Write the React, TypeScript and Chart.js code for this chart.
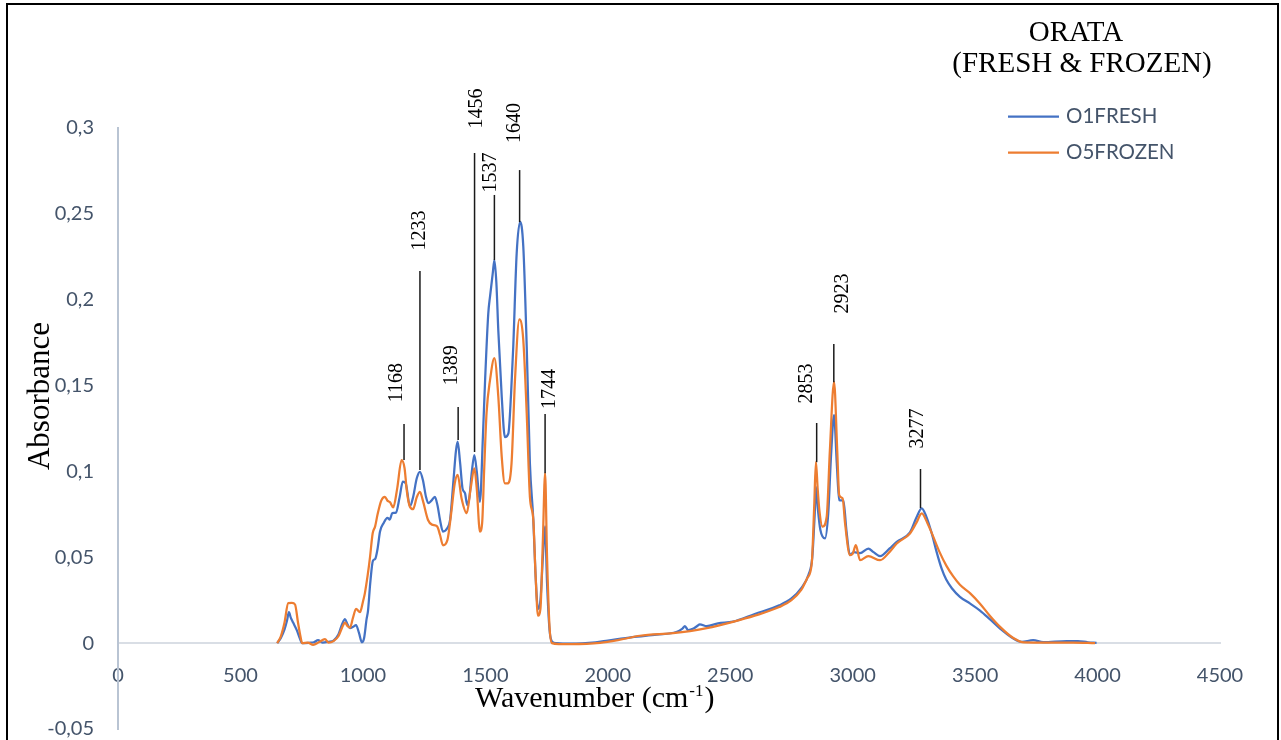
import React, { useEffect, useRef } from "react";
import { Chart, registerables } from "chart.js";

Chart.register(...registerables);

const seriesNames = ["O1FRESH", "O5FROZEN"];
const seriesColors = ["#4472C4", "#ED7D31"];

const freshWavenumber = [
  650, 665, 680, 690, 698, 705, 715, 730, 742, 752, 780, 800, 817, 835, 860, 880, 900, 915, 927, 937,
  947, 960, 972, 984, 996, 1005, 1015, 1021, 1030, 1041, 1050, 1060, 1070, 1085, 1100, 1110, 1120, 1135,
  1150, 1163, 1175, 1192, 1205, 1220, 1233, 1245, 1258, 1267, 1280, 1294, 1305, 1315, 1327, 1345, 1356,
  1370, 1380, 1387, 1397, 1407, 1417, 1426, 1435, 1445, 1455, 1465, 1478, 1490, 1499, 1512, 1519, 1530,
  1537, 1545, 1553, 1567, 1580, 1594, 1605, 1614, 1628, 1642, 1655, 1669, 1682, 1696, 1705, 1715, 1725,
  1735, 1744, 1752, 1762, 1772, 1790, 1850, 1950, 2000, 2100, 2200, 2280, 2305, 2315, 2328, 2350, 2365,
  2376, 2404, 2450, 2511, 2600, 2700, 2750, 2790, 2820, 2835, 2845, 2850, 2858, 2868, 2887, 2900, 2912,
  2924, 2935, 2945, 2962, 2975, 2989, 3005, 3030, 3064, 3085, 3112, 3150, 3180, 3234, 3260, 3282, 3300,
  3323, 3343, 3363, 3382, 3405, 3438, 3480, 3520, 3560, 3602, 3656, 3690, 3737, 3778, 3874, 3920, 3960, 3996,
];
const freshAbsorbance = [
  0, 0.003, 0.008, 0.013, 0.018, 0.015, 0.012, 0.0076, 0.003, 0, 0.0002, 0.0005, 0.0017, 0.0003, 0.0008,
  0.0015, 0.005, 0.011, 0.014, 0.011, 0.0087, 0.0095, 0.0105, 0.006, 0.0005, 0.003, 0.014, 0.019, 0.035,
  0.048, 0.049, 0.055, 0.065, 0.07, 0.073, 0.072, 0.0757, 0.076, 0.085, 0.094, 0.093, 0.0797, 0.085, 0.096,
  0.0998, 0.095, 0.085, 0.0815, 0.083, 0.0852, 0.08, 0.0717, 0.065, 0.067, 0.0717, 0.095, 0.112, 0.1173,
  0.105, 0.09, 0.0873, 0.0804, 0.085, 0.1, 0.1095, 0.1, 0.0823, 0.12, 0.153, 0.192, 0.2017, 0.215, 0.2231,
  0.21, 0.182, 0.1435, 0.12, 0.122, 0.145, 0.1726, 0.227, 0.2454, 0.231, 0.1726, 0.1048, 0.0717, 0.04, 0.02,
  0.025, 0.05, 0.068, 0.035, 0.008, 0.001, 0, -0.0003, 0.0005, 0.0015, 0.0035, 0.005, 0.0065, 0.0085, 0.0099,
  0.0076, 0.0085, 0.01, 0.011, 0.0099, 0.0115, 0.0125, 0.017, 0.022, 0.026, 0.032, 0.04, 0.05, 0.075, 0.091,
  0.078, 0.066, 0.061, 0.075, 0.11, 0.1328, 0.105, 0.0833, 0.083, 0.065, 0.0513, 0.053, 0.0524, 0.0551,
  0.053, 0.0507, 0.055, 0.059, 0.0645, 0.073, 0.0785, 0.074, 0.0639, 0.053, 0.0435, 0.037, 0.032, 0.027,
  0.023, 0.019, 0.014, 0.0085, 0.0027, 0.0008, 0.0017, 0.0006, 0.0012, 0.0012, 0.0005, 0.0002,
];

const frozenWavenumber = [
  650, 665, 680, 695, 710, 723, 735, 745, 752, 775, 797, 820, 845, 860, 880, 900, 915, 927, 937, 947, 960,
  972, 988, 1000, 1008, 1020, 1029, 1040, 1050, 1060, 1075, 1090, 1100, 1111, 1124, 1140, 1158, 1170, 1180,
  1192, 1205, 1220, 1233, 1245, 1266, 1282, 1303, 1315, 1327, 1345, 1360, 1375, 1387, 1403, 1424, 1440,
  1455, 1465, 1478, 1487, 1495, 1505, 1519, 1537, 1553, 1567, 1580, 1590, 1607, 1621, 1639, 1655, 1669,
  1682, 1696, 1705, 1715, 1725, 1735, 1744, 1752, 1762, 1772, 1800, 1850, 1968, 2050, 2131, 2267, 2336,
  2404, 2511, 2600, 2700, 2750, 2790, 2815, 2833, 2843, 2850, 2857, 2864, 2877, 2894, 2907, 2924, 2937,
  2945, 2959, 2969, 2989, 3000, 3013, 3030, 3064, 3112, 3150, 3180, 3234, 3260, 3282, 3305, 3329, 3355,
  3383, 3410, 3438, 3480, 3520, 3560, 3602, 3656, 3700, 3800, 3900, 3990,
];
const frozenAbsorbance = [
  0, 0.004, 0.012, 0.0233, 0.0235, 0.0225, 0.012, 0.004, 0, 0.0003, -0.001, 0.0005, 0.0023, 0.0003, 0.0012,
  0.004, 0.009, 0.012, 0.01, 0.009, 0.015, 0.02, 0.018, 0.024, 0.029, 0.04, 0.05, 0.064, 0.068, 0.075, 0.083,
  0.0852, 0.083, 0.082, 0.079, 0.09, 0.1066, 0.102, 0.088, 0.0794, 0.078, 0.085, 0.0881, 0.083, 0.0717,
  0.069, 0.068, 0.063, 0.057, 0.06, 0.075, 0.093, 0.098, 0.0843, 0.0757, 0.09, 0.1018, 0.09, 0.065, 0.07,
  0.1, 0.134, 0.153, 0.166, 0.1435, 0.1085, 0.093, 0.093, 0.1047, 0.153, 0.1885, 0.1765, 0.1338, 0.0852,
  0.0717, 0.04, 0.016, 0.02, 0.06, 0.099, 0.05, 0.01, 0, -0.0005, -0.0005, 0.0002, 0.002, 0.0043, 0.0058,
  0.007, 0.0087, 0.0124, 0.016, 0.021, 0.025, 0.031, 0.038, 0.0466, 0.08, 0.1056, 0.09, 0.0775, 0.0678,
  0.0736, 0.1124, 0.1522, 0.112, 0.0862, 0.0843, 0.0697, 0.0513, 0.052, 0.0571, 0.0483, 0.0507, 0.0483,
  0.053, 0.058, 0.0639, 0.07, 0.0755, 0.07, 0.062, 0.053, 0.045, 0.039, 0.034, 0.029, 0.023, 0.016, 0.0095,
  0.003, 0.0004, 0.0003, 0.0003, 0,
];

// Peak annotations (wavenumber, absorbance coordinates)
const peakWavenumbers = [1168, 1233, 1389, 1456, 1537, 1640, 1744, 2853, 2923, 3277];
const peakLineBase = [0.1066, 0.1008, 0.1183, 0.1113, 0.2231, 0.2452, 0.099, 0.1054, 0.152, 0.0786];
const peakLineTop = [0.1276, 0.2167, 0.1375, 0.2854, 0.261, 0.2755, 0.1334, 0.1282, 0.1742, 0.1014];
const peakLabelX = [1139, 1233, 1363, 1466, 1523, 1619, 1762, 2812, 2958, 3265];
const peakLabelY = [0.1517, 0.2403, 0.1619, 0.3114, 0.2741, 0.3029, 0.148, 0.1512, 0.2036, 0.125];

const titleLines = ["ORATA", "(FRESH & FROZEN)"];
const yTitle = "Absorbance";
const xTitleMain = "Wavenumber (cm";
const xTitleSup = "-1";

const xMin = 0;
const xMax = 4500;
const xStep = 500;
const yMin = -0.05;
const yMax = 0.3;
const yStep = 0.05;

const TEXT_COLOR = "#44546A";
const SERIF = '"Liberation Serif", "Times New Roman", serif';
const SANS = 'Lato, "Open Sans", sans-serif';

function toPoints(xs: number[], ys: number[]) {
  return xs.map((x, i) => ({ x, y: ys[i] }));
}

export default function App() {
  const ref = useRef<HTMLCanvasElement | null>(null);

  useEffect(() => {
    if (!ref.current) return;

    const overlay = {
      id: "overlay",
      afterDraw(chart: any) {
        const ctx = chart.ctx as CanvasRenderingContext2D;
        const xs = chart.scales.x;
        const ys = chart.scales.y;
        ctx.save();

        // peak leader lines and labels
        ctx.strokeStyle = "#1a1a1a";
        ctx.lineWidth = 1.5;
        peakWavenumbers.forEach((w, i) => {
          const px = xs.getPixelForValue(w);
          ctx.beginPath();
          ctx.moveTo(px, ys.getPixelForValue(peakLineBase[i]));
          ctx.lineTo(px, ys.getPixelForValue(peakLineTop[i]));
          ctx.stroke();
          ctx.save();
          ctx.translate(xs.getPixelForValue(peakLabelX[i]), ys.getPixelForValue(peakLabelY[i]));
          ctx.rotate(-Math.PI / 2);
          ctx.font = `20px ${SERIF}`;
          ctx.fillStyle = "#000";
          ctx.textAlign = "center";
          ctx.textBaseline = "middle";
          ctx.fillText(String(w), 0, 0);
          ctx.restore();
        });

        // chart title
        ctx.fillStyle = "#000";
        ctx.font = `29px ${SERIF}`;
        ctx.textAlign = "center";
        ctx.textBaseline = "alphabetic";
        ctx.fillText(titleLines[0], 1076, 41);
        ctx.fillText(titleLines[1], 1082, 72);

        // legend
        const legendY = [116.5, 152.5];
        chart.data.datasets.forEach((ds: any, i: number) => {
          ctx.strokeStyle = ds.borderColor;
          ctx.lineWidth = 2.25;
          ctx.beginPath();
          ctx.moveTo(1008, legendY[i]);
          ctx.lineTo(1059, legendY[i]);
          ctx.stroke();
          ctx.fillStyle = TEXT_COLOR;
          ctx.font = `20.5px ${SANS}`;
          ctx.textAlign = "left";
          ctx.textBaseline = "middle";
          ctx.fillText(ds.label, 1066, legendY[i]);
        });

        // y title
        ctx.save();
        ctx.translate(49, 396);
        ctx.rotate(-Math.PI / 2);
        ctx.fillStyle = "#000";
        ctx.font = `31px ${SERIF}`;
        ctx.textAlign = "center";
        ctx.textBaseline = "alphabetic";
        ctx.fillText(yTitle, 0, 0);
        ctx.restore();

        // x title with superscript
        ctx.fillStyle = "#000";
        ctx.textAlign = "left";
        ctx.textBaseline = "alphabetic";
        let tx = 475;
        ctx.font = `30px ${SERIF}`;
        ctx.fillText(xTitleMain, tx, 707);
        tx += ctx.measureText(xTitleMain).width + 1;
        ctx.font = `17px ${SERIF}`;
        ctx.fillText(xTitleSup, tx, 696);
        tx += ctx.measureText(xTitleSup).width + 1;
        ctx.font = `30px ${SERIF}`;
        ctx.fillText(")", tx, 707);

        ctx.restore();
      },
    };

    const chart = new Chart(ref.current, {
      type: "line",
      data: {
        datasets: [
          {
            label: seriesNames[0],
            data: toPoints(freshWavenumber, freshAbsorbance),
            borderColor: seriesColors[0],
            backgroundColor: seriesColors[0],
            borderWidth: 2.25,
            pointRadius: 0,
            cubicInterpolationMode: "monotone",
            order: 1,
          },
          {
            label: seriesNames[1],
            data: toPoints(frozenWavenumber, frozenAbsorbance),
            borderColor: seriesColors[1],
            backgroundColor: seriesColors[1],
            borderWidth: 2.25,
            pointRadius: 0,
            cubicInterpolationMode: "monotone",
            order: 0,
          },
        ],
      },
      options: {
        animation: false,
        responsive: false,
        devicePixelRatio: 1,
        layout: { padding: { left: 0, right: 61, top: 128, bottom: 11 } },
        plugins: {
          legend: { display: false },
          tooltip: { enabled: false },
          title: { display: false },
        },
        scales: {
          x: {
            type: "linear",
            min: xMin,
            max: xMax,
            position: { y: 0 } as any,
            grid: { display: false, drawTicks: false },
            border: { display: true, color: "#D9DEE5", width: 2 },
            ticks: {
              stepSize: xStep,
              color: TEXT_COLOR,
              font: { family: SANS, size: 20 },
              padding: 20,
              maxRotation: 0,
              autoSkip: false,
              callback: (v: any) => String(Math.round(Number(v))),
            },
          },
          y: {
            type: "linear",
            min: yMin,
            max: yMax,
            grid: { display: false, drawTicks: false },
            border: { display: true, color: "#B9C4D3", width: 2 },
            ticks: {
              stepSize: yStep,
              color: TEXT_COLOR,
              font: { family: SANS, size: 20 },
              padding: 24,
              callback: (v: any) => {
                const n = Math.round(Number(v) * 100) / 100;
                return String(n).replace(".", ",");
              },
            },
            afterFit: (scale: any) => {
              scale.width = 118;
              scale.paddingTop = 0;
              scale.paddingBottom = 0;
            },
          },
        },
      },
      plugins: [overlay],
    } as any);

    return () => chart.destroy();
  }, []);

  return (
    <div style={{ position: "fixed", inset: 0, overflow: "hidden", background: "#fff" }}>
      <canvas
        ref={ref}
        width={1281}
        height={740}
        style={{ position: "absolute", left: 0, top: 0, width: 1281, height: 740 }}
      />
      <div
        style={{
          position: "absolute",
          left: 6,
          top: 3,
          width: 1269,
          height: 800,
          border: "2px solid #000",
          pointerEvents: "none",
        }}
      />
    </div>
  );
}
